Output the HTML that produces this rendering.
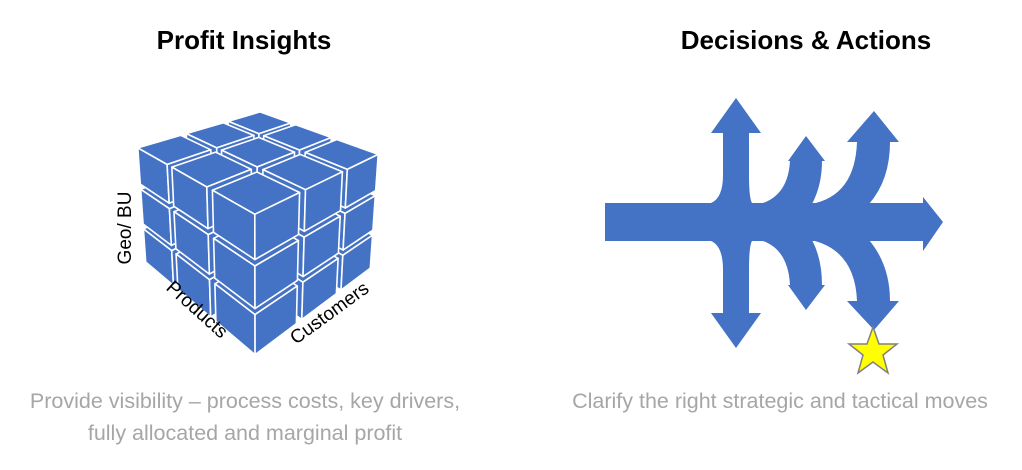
<!DOCTYPE html>
<html><head><meta charset="utf-8"><style>
body{margin:0;width:1022px;height:465px;background:#fff;overflow:hidden;font-family:"Liberation Sans",sans-serif}
</style></head><body>
<svg id="s" width="1022" height="465" xmlns="http://www.w3.org/2000/svg" font-family="Liberation Sans, sans-serif">
<text x="244" y="49" font-size="26" font-weight="bold" text-anchor="middle" fill="#000">Profit Insights</text>
<text x="806" y="49" font-size="26" font-weight="bold" text-anchor="middle" fill="#000">Decisions &amp; Actions</text>
<text x="245" y="408" font-size="21.5" text-anchor="middle" fill="#a6a6a6">Provide visibility – process costs, key drivers,</text>
<text x="245" y="440" font-size="21.5" text-anchor="middle" fill="#a6a6a6">fully allocated and marginal profit</text>
<text x="780" y="408" font-size="21.5" text-anchor="middle" fill="#a6a6a6">Clarify the right strategic and tactical moves</text>
<g id="cube"></g>
<text transform="translate(131,228) rotate(-90)" font-size="19" text-anchor="middle">Geo/ BU</text>
<text transform="translate(193,314) rotate(42)" font-size="19" text-anchor="middle">Products</text>
<text transform="translate(333,318) rotate(-36)" font-size="19" text-anchor="middle">Customers</text>
<g fill="#4472C4">
<rect x="605" y="203" width="320" height="38"/>
<polygon points="923,197 943,222 923,251"/>
<path d="M711,203 Q723,198 723,175 L723,133 L711,133 L736,98 L761,133 L749,133 L749,175 Q749,198 752,203 Z"/>
<path d="M711,241 Q723,246 723,270 L723,313 L711,313 L736,348 L761,313 L749,313 L749,270 Q749,246 752,241 Z"/>
<path d="M760,204 Q788,196 790,161 L788,161 L806,136 L825,161 L822,161 Q822,185 812,204 Z"/>
<path d="M760,240 Q788,248 790,285 L788,285 L806,310 L825,285 L822,285 Q822,259 812,240 Z"/>
<path d="M811,204 Q855,196 857,142 L847,142 L874,111 L899,142 L890,142 Q890,180 869,204 Z"/>
<path d="M811,240 Q855,250 857,301 L847,301 L874,330 L899,301 L890,301 Q890,265 869,240 Z"/>
</g>
<polygon points="873,327 879,344 897,344 883,355 888,373 873,362 858,373 863,355 849,344 867,344" fill="#ffff00" stroke="#808080" stroke-width="1.5"/>
</svg>
<script>
(function(){
var a=[-36,-20],b=[37.5,-18],c=[0,36],D=14;
var C=[258,210];
function P(x,y,z){
 var dx=x-1.5,dy=y-1.5,dz=z-1.5;
 var depth=-dx-dy-0.3*dz;
 var s=D/(D-depth);
 var ox=a[0]*dx+b[0]*dy+c[0]*dz, oy=a[1]*dx+b[1]*dy+c[1]*dz;
 return (C[0]+ox*s).toFixed(1)+","+(C[1]+oy*s).toFixed(1);
}
var list=[];
for(var i=0;i<3;i++)for(var j=0;j<3;j++)for(var k=0;k<3;k++)list.push([i,j,k]);
list.sort(function(p,q){return (q[0]+q[1])-(p[0]+p[1])||q[2]-p[2];});
var h="";
var st='fill="#4472C4" stroke="#fff" stroke-width="1.6" stroke-linejoin="round"';
var E=1.1,hs=0.48;
list.forEach(function(p){
 var i=p[0],j=p[1],k=p[2];
 var cx=(i-1)*E+1.5,cy=(j-1)*E+1.5,cz=(k-1)*E+1.5;
 var x0=cx-hs,y0=cy-hs,z0=cz-hs,x1=cx+hs,y1=cy+hs,z1=cz+hs;
 h+='<polygon '+st+' points="'+[P(x0,y0,z0),P(x1,y0,z0),P(x1,y1,z0),P(x0,y1,z0)].join(" ")+'"/>';
 h+='<polygon '+st+' points="'+[P(x0,y0,z0),P(x1,y0,z0),P(x1,y0,z1),P(x0,y0,z1)].join(" ")+'"/>';
 h+='<polygon '+st+' points="'+[P(x0,y0,z0),P(x0,y1,z0),P(x0,y1,z1),P(x0,y0,z1)].join(" ")+'"/>';
});
document.getElementById("cube").innerHTML=h;
})();
</script>
</body></html>
